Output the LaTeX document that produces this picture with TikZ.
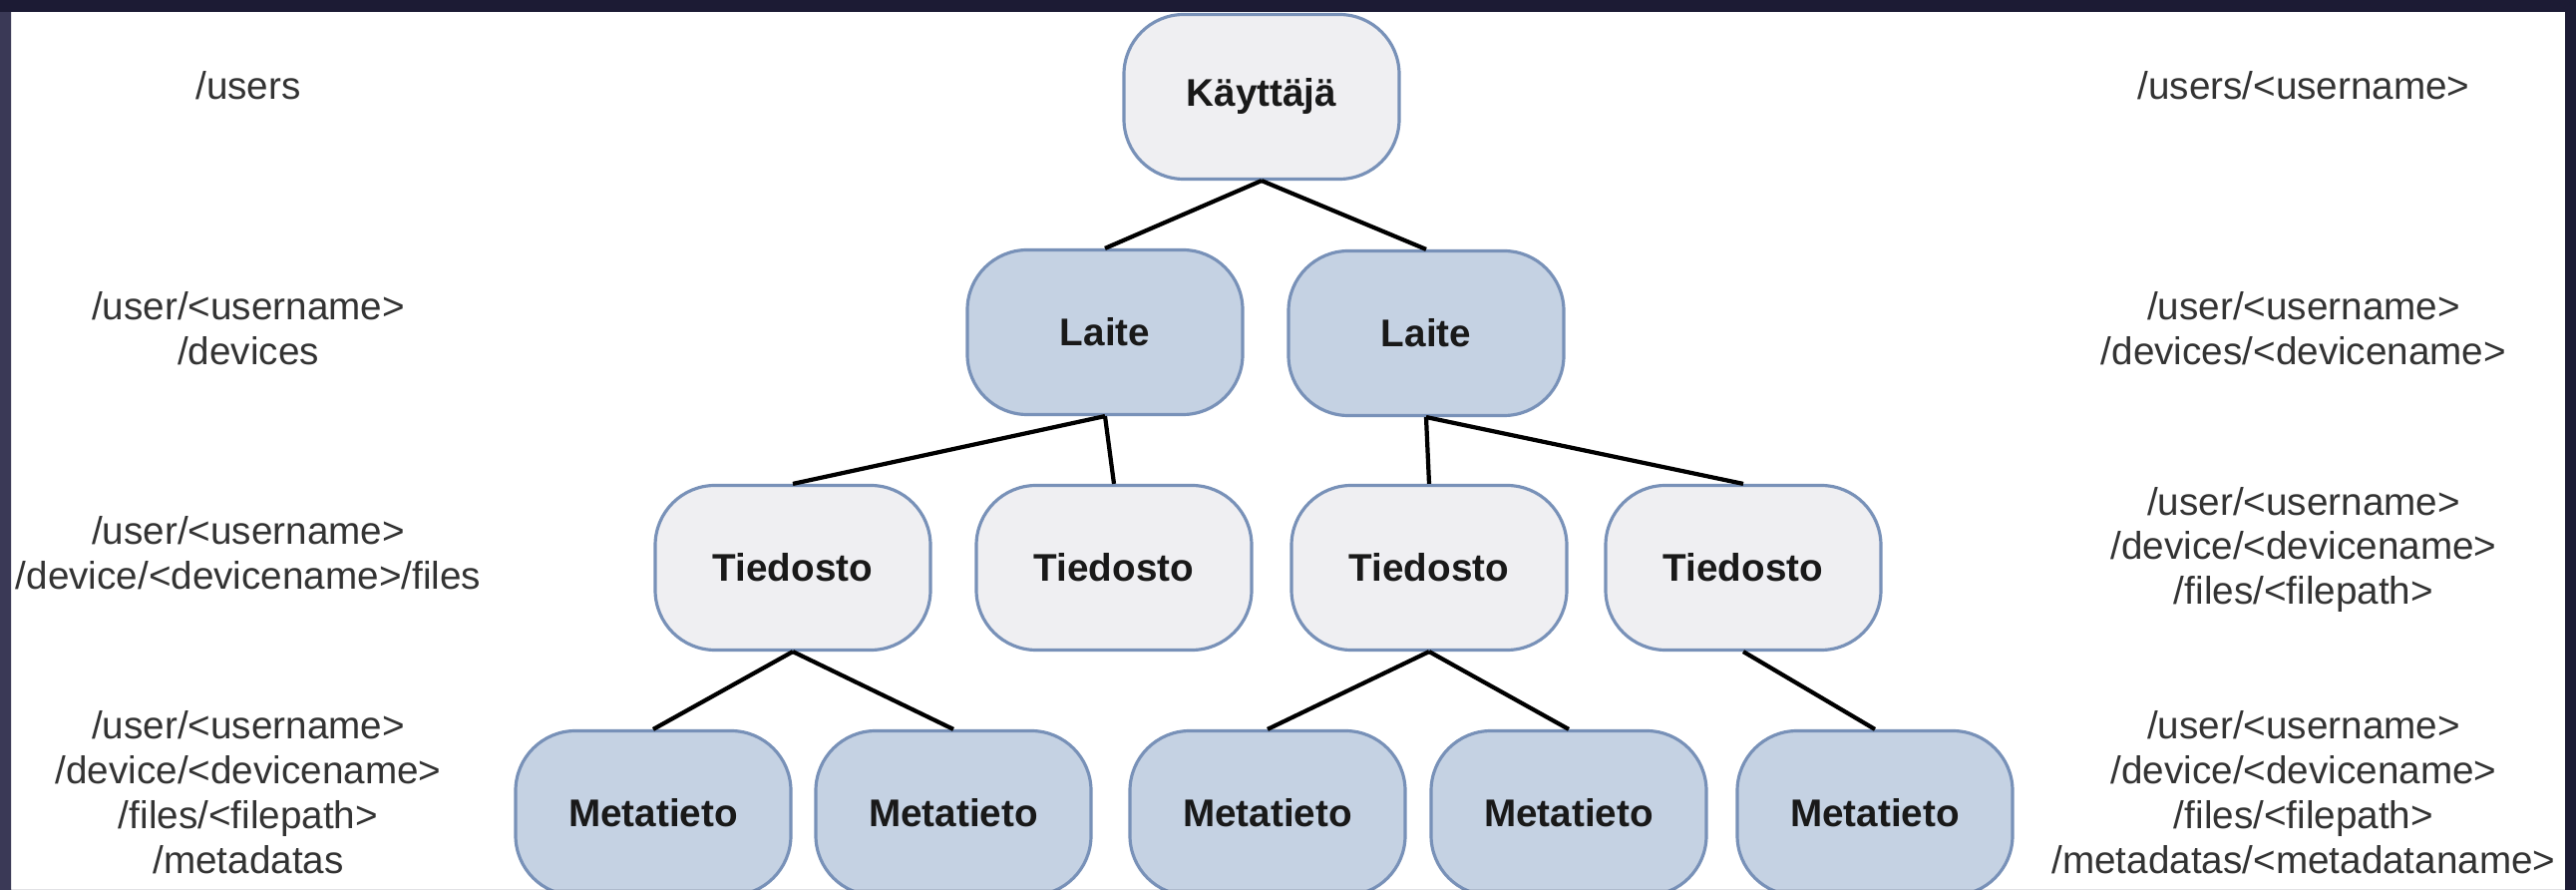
\documentclass[tikz,border=0pt]{standalone}
\usepackage{fontspec}
\setmainfont{Liberation Sans}
\usepackage{xcolor}
\definecolor{framebg}{HTML}{1C1B34}
\definecolor{frameleft}{HTML}{3A3956}
\definecolor{greyfill}{HTML}{EFEFF2}
\definecolor{bluefill}{HTML}{C5D2E3}
\definecolor{nodeedge}{HTML}{7891B8}
\definecolor{labeltext}{HTML}{333333}

\begin{document}
\begin{tikzpicture}[x=0.1mm, y=-0.1mm,
	box/.style={draw=nodeedge, line width=0.9pt, rounded corners=0.6cm, minimum width=2.76cm, minimum height=1.65cm, font=\fontsize{11}{13}\selectfont\bfseries, text=black!90},
	greybox/.style={box, fill=greyfill},
	bluebox/.style={box, fill=bluefill},
	pathtext/.style={align=center, text=labeltext, font=\fontsize{11}{12.8}\selectfont},
	link/.style={line width=1.2pt, black}]
	\useasboundingbox (0,0) rectangle (2583,892);
	\fill[white] (0,0) rectangle (2583,892);
	\node (k) [greybox] at (1265, 97) {Käyttäjä};
	\node (l1) [bluebox] at (1108, 333) {Laite};
	\node (l2) [bluebox] at (1430, 334) {Laite};
	\node (t1) [greybox] at (795, 569) {Tiedosto};
	\node (t2) [greybox] at (1117, 569) {Tiedosto};
	\node (t3) [greybox] at (1433, 569) {Tiedosto};
	\node (t4) [greybox] at (1748, 569) {Tiedosto};
	\node (m1) [bluebox] at (655, 815) {Metatieto};
	\node (m2) [bluebox] at (956, 815) {Metatieto};
	\node (m3) [bluebox] at (1271, 815) {Metatieto};
	\node (m4) [bluebox] at (1573, 815) {Metatieto};
	\node (m5) [bluebox] at (1880, 815) {Metatieto};
	\draw[link] (k.south) -- (l1.north);
	\draw[link] (k.south) -- (l2.north);
	\draw[link] (l1.south) -- (t1.north);
	\draw[link] (l1.south) -- (t2.north);
	\draw[link] (l2.south) -- (t3.north);
	\draw[link] (l2.south) -- (t4.north);
	\draw[link] (t1.south) -- (m1.north);
	\draw[link] (t1.south) -- (m2.north);
	\draw[link] (t3.south) -- (m3.north);
	\draw[link] (t3.south) -- (m4.north);
	\draw[link] (t4.south) -- (m5.north);
	\node (u0) [pathtext] at (249, 86) {/users};
	\node (u1) [pathtext] at (249, 329) {/user/<username>\\/devices};
	\node (u2) [pathtext] at (249, 554) {/user/<username>\\/device/<devicename>/files};
	\node (u3) [pathtext] at (249, 794) {/user/<username>\\/device/<devicename>\\/files/<filepath>\\/metadatas};
	\node (r0) [pathtext] at (2310, 86) {/users/<username>};
	\node (r1) [pathtext] at (2310, 329) {/user/<username>\\/devices/<devicename>};
	\node (r2) [pathtext] at (2310, 551) {/user/<username>\\/device/<devicename>\\/files/<filepath>};
	\node (r3) [pathtext] at (2310, 794) {/user/<username>\\/device/<devicename>\\/files/<filepath>\\/metadatas/<metadataname>};
	\fill[framebg, even odd rule] (0,0) rectangle (2583,892) (11,12) rectangle (2572,893);
	\fill[frameleft] (0,12) rectangle (11,892);
\end{tikzpicture}
\end{document}
